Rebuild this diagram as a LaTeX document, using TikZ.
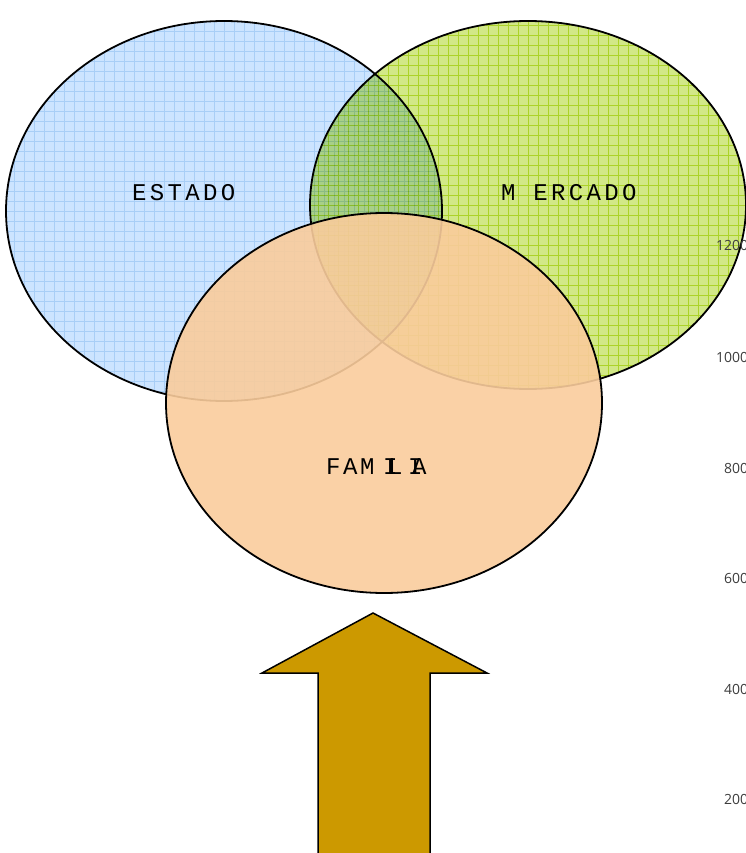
\documentclass[tikz,border=0pt]{standalone}
\usepackage{fontspec}
\newfontfamily\labelfont[LetterSpace=14]{Liberation Mono}
\newfontfamily\plainmono{Liberation Mono}
\newfontfamily\axisfont{Open Sans}
\usetikzlibrary{shapes.geometric}
\definecolor{estadofill}{RGB}{204,228,255}
\definecolor{estadogrid}{RGB}{168,206,246}
\definecolor{mercadofill}{RGB}{210,232,135}
\definecolor{mercadogrid}{RGB}{209,233,80}
\definecolor{familiafill}{RGB}{250,204,156}
\definecolor{arrowfill}{RGB}{204,153,0}
\definecolor{axistext}{RGB}{60,60,60}
\newcommand{\letterat}[2]{\makebox[0pt][l]{#1}\hspace{#2}}
\tikzset{
  venn/.style={ellipse, draw=black, line width=1.8pt, inner sep=0pt,
    minimum width=436pt, minimum height=380pt},
  gridfill/.style={path picture={\draw[#1, line width=0.7pt]
      (path picture bounding box.south west) grid[step=10pt]
      (path picture bounding box.north east);}},
  vennlabel/.style={font=\labelfont\fontsize{24}{27}\selectfont, text=black, inner sep=0pt},
  axislabel/.style={font=\axisfont\fontsize{14}{16}\selectfont, text=axistext, anchor=west, inner sep=0pt},
  bigarrow/.style={fill=arrowfill, draw=black, line width=1.5pt, line join=miter}
}
\begin{document}
\begin{tikzpicture}[x=1pt,y=-1pt]
\useasboundingbox (0,0) rectangle (746,853);
\clip (0,0) rectangle (746,853);
% ellipses
\node[venn, fill=estadofill, gridfill=estadogrid] (estado) at (224,211) {};
\begin{scope}[blend mode=multiply]
\node[venn, fill=mercadofill, gridfill=mercadogrid, minimum height=368pt] (mercado) at (528,205) {};
\end{scope}
\node[venn, fill=familiafill, fill opacity=0.9, draw opacity=1] (familia) at (384,403) {};
% labels
\node[vennlabel, anchor=west] (testado) at (132,193) {ESTADO};
\node[vennlabel, anchor=west] (tmercado) at (501,193) {M ERCADO};
\node[vennlabel, anchor=west, font=\plainmono\fontsize{24}{27}\selectfont] (tfamilia) at (326,467)
  {\letterat{F}{17pt}\letterat{A}{17pt}\letterat{M}{23pt}\letterat{I}{5pt}\letterat{L}{20pt}\letterat{I}{4pt}A};
% arrow
\coordinate (tip) at (373,613);
\draw[bigarrow] (tip) -- (487,673) -- (430,673) -- (430,860) -- (318,860) -- (318,673) -- (262,673) -- cycle;
% axis labels (cut by the right edge, as in the reference)
\node[axislabel] (a1200) at (716,245) {1200};
\node[axislabel] (a1000) at (716,357) {1000};
\node[axislabel] (a800) at (724,468) {800};
\node[axislabel] (a600) at (724,578) {600};
\node[axislabel] (a400) at (724,689) {400};
\node[axislabel] (a200) at (724,799) {200};
\end{tikzpicture}
\end{document}
